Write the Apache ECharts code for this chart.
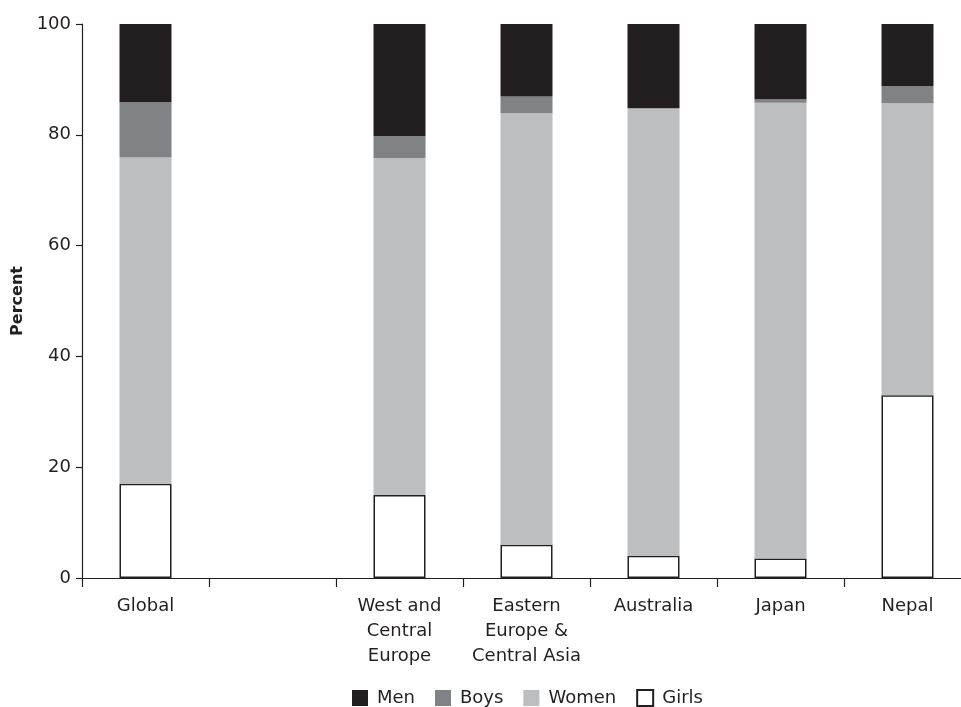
<!DOCTYPE html>
<html>
<head>
<meta charset="utf-8">
<script src="https://cdn.jsdelivr.net/npm/echarts@6/dist/echarts.min.js"></script>
<style>html,body{margin:0;padding:0;background:#fff;overflow:hidden}#chart{width:971px;height:707px}</style>
</head>
<body>
<div id="chart"></div>
<script>
const categories = ['Global', '', 'West and\nCentral\nEurope', 'Eastern\nEurope &\nCentral Asia', 'Australia', 'Japan', 'Nepal'];
const girls = [17, null, 15, 6, 4, 3.5, 33];
const women = [58.9, null, 60.8, 77.9, 80.8, 82.3, 52.7];
const boys = [10, null, 4, 3, 0, 0.6, 3.1];
const men = [14.1, null, 20.2, 13.1, 15.2, 13.6, 11.2];
const yTicks = [0, 20, 40, 60, 80, 100];

const ink = '#231f20';
const chart = echarts.init(document.getElementById('chart'));
const font = '"DejaVu Sans", sans-serif';
chart.setOption({
  animation: false,
  textStyle: { fontFamily: font, color: ink },
  grid: { left: 82, top: 24, right: 0, bottom: 129 },
  legend: {
    data: ['Men', 'Boys', 'Women', 'Girls'],
    left: 347, top: 684,
    itemWidth: 16, itemHeight: 16, itemGap: 20,
    icon: 'rect',
    textStyle: { fontSize: 18, color: ink, fontFamily: font, padding: [0, 0, 0, 4] }
  },
  xAxis: {
    type: 'category',
    data: categories,
    axisLine: { lineStyle: { color: ink, width: 1.2 } },
    axisTick: { show: true, length: 9, lineStyle: { color: ink, width: 1.2 } },
    axisLabel: { color: ink, fontSize: 18, lineHeight: 25, margin: 16, interval: 0, fontFamily: font }
  },
  yAxis: {
    type: 'value', min: yTicks[0], max: yTicks[yTicks.length - 1], interval: 20,
    name: 'Percent', nameLocation: 'middle', nameGap: 56,
    nameTextStyle: { fontSize: 16, fontWeight: 'bold', color: ink, fontFamily: font },
    axisLine: { show: true, lineStyle: { color: ink, width: 1.2 } },
    axisTick: { show: true, length: 6, lineStyle: { color: ink, width: 1.2 } },
    axisLabel: { color: ink, fontSize: 18, margin: 11, fontFamily: font },
    splitLine: { show: false }
  },
  series: [
    { name: 'Girls', type: 'bar', stack: 's', barWidth: 52, data: girls,
      itemStyle: { color: '#ffffff', borderColor: ink, borderWidth: 1.5 } },
    { name: 'Women', type: 'bar', stack: 's', barWidth: 52, data: women,
      itemStyle: { color: '#bcbec0' } },
    { name: 'Boys', type: 'bar', stack: 's', barWidth: 52, data: boys,
      itemStyle: { color: '#808285' } },
    { name: 'Men', type: 'bar', stack: 's', barWidth: 52, data: men,
      itemStyle: { color: ink } }
  ]
});
</script>
</body>
</html>
